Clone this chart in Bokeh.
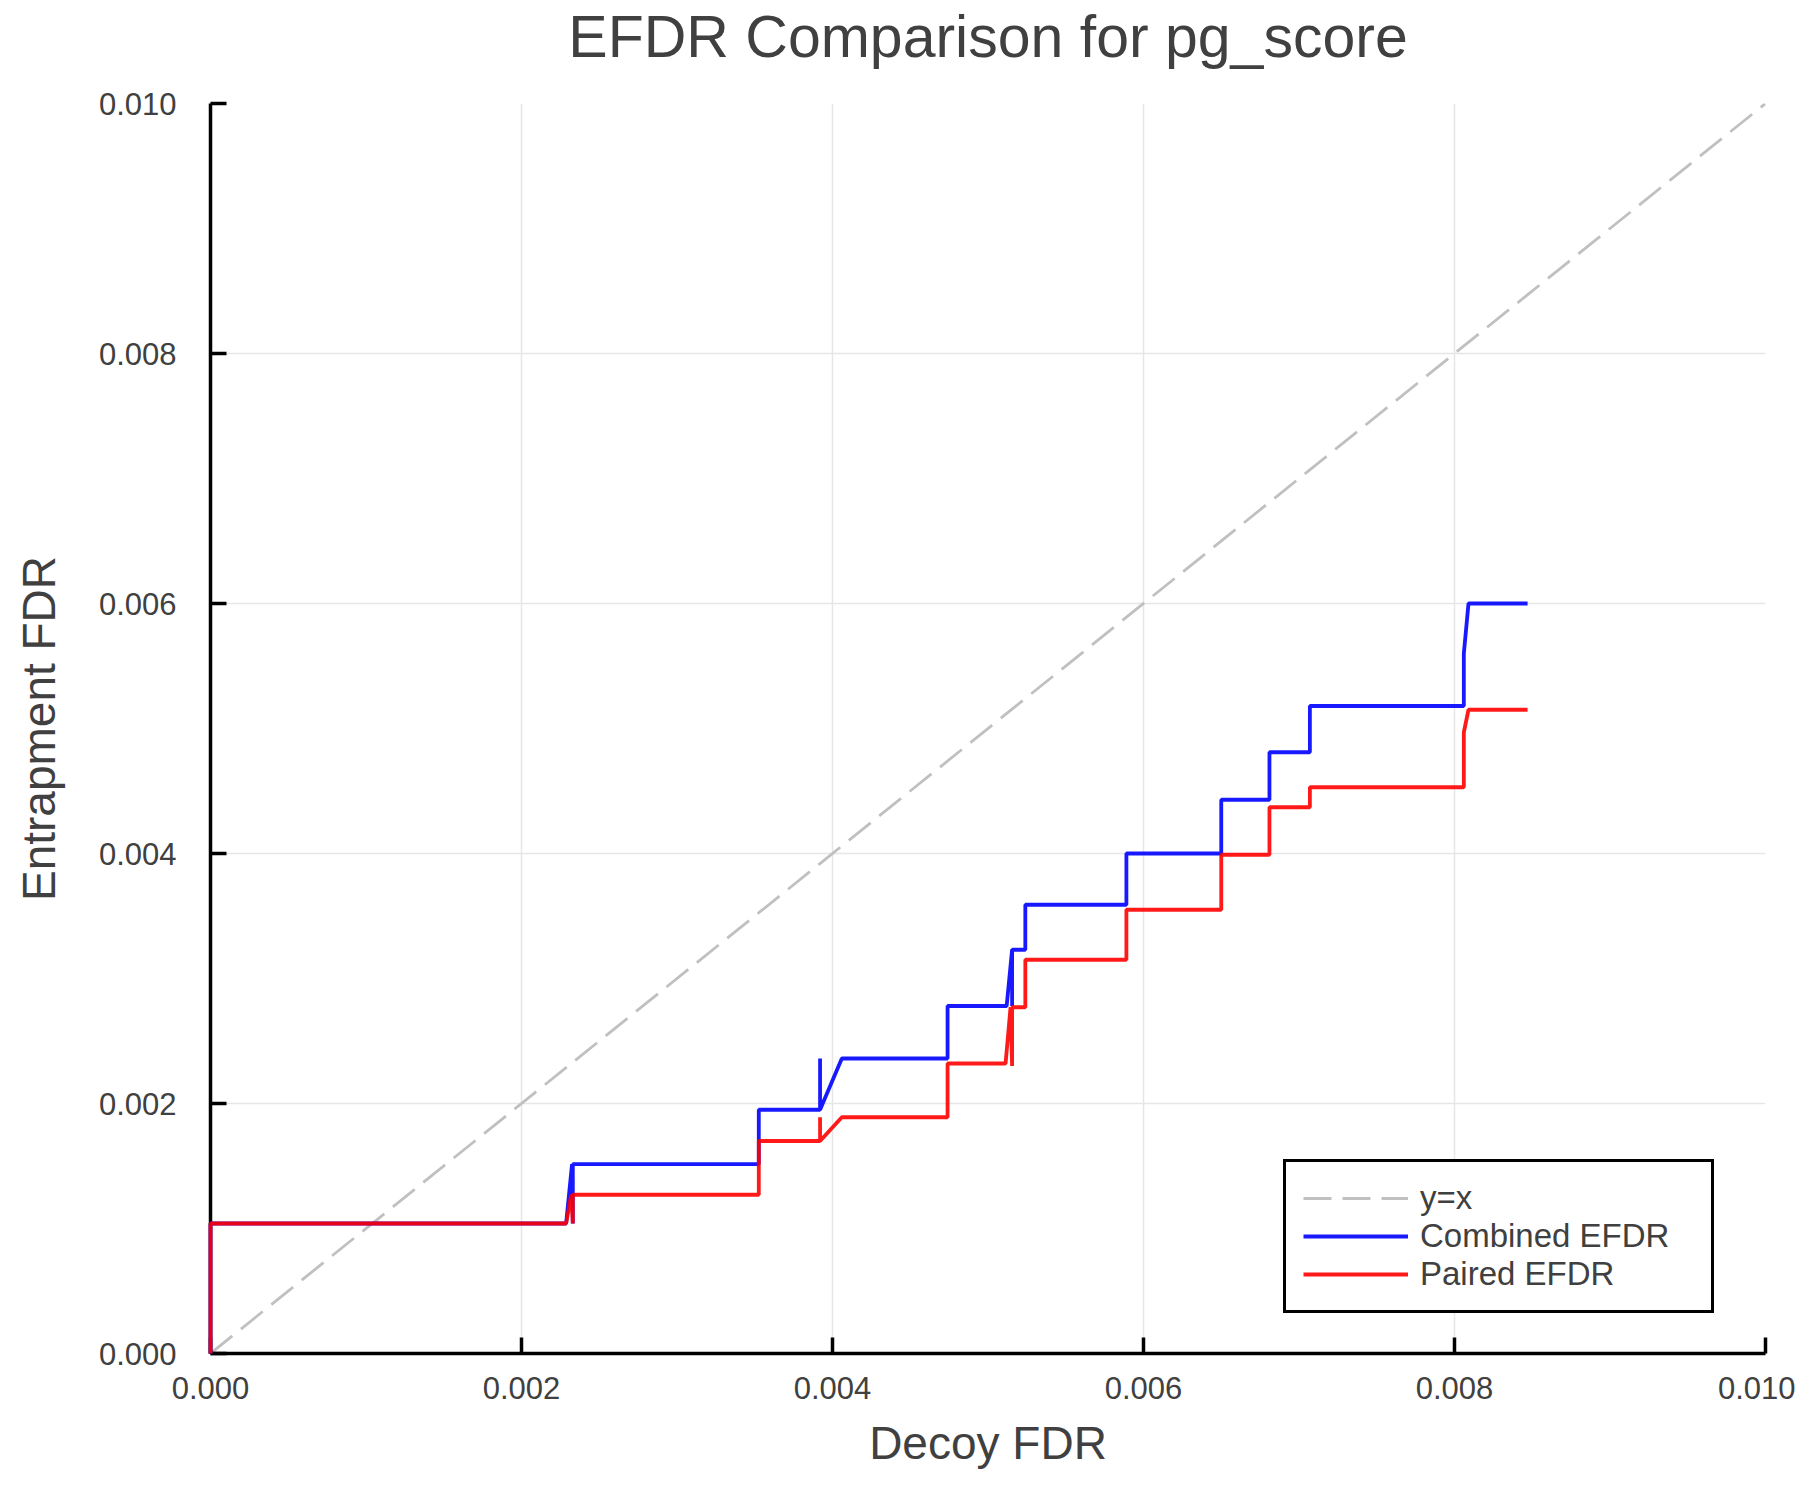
from bokeh.plotting import figure
from bokeh.models import Range1d, FixedTicker, PrintfTickFormatter, Legend, LegendItem, LinearAxis
from bokeh.embed import file_html
from bokeh.resources import INLINE

# decoy FDR / entrapment FDR points
combined_x = [0.0, 0.0, 0.002287, 0.002325, 0.00233, 0.00233, 0.003526, 0.003526,
              0.00392, 0.00392, 0.00392, 0.00406, 0.00474, 0.00474, 0.00512, 0.005155,
              0.005155, 0.005155, 0.00524, 0.00524, 0.00589, 0.00589, 0.0065, 0.0065,
              0.00681, 0.00681, 0.00707, 0.00707, 0.00806, 0.00806, 0.00809, 0.00847]
combined_y = [0.0, 0.00104, 0.00104, 0.001515, 0.00104, 0.001515, 0.001515, 0.00195,
              0.00195, 0.00236, 0.00195, 0.00236, 0.00236, 0.00278, 0.00278, 0.00323,
              0.00278, 0.00323, 0.00323, 0.00359, 0.00359, 0.0040, 0.0040, 0.00443,
              0.00443, 0.00481, 0.00481, 0.00518, 0.00518, 0.0056, 0.0060, 0.0060]

paired_x = [0.0, 0.0, 0.002287, 0.00232, 0.00233, 0.00233, 0.003526, 0.003526,
            0.00392, 0.00392, 0.00392, 0.00406, 0.00474, 0.00474, 0.005113, 0.005145,
            0.005155, 0.005155, 0.00524, 0.00524, 0.00589, 0.00589, 0.0065, 0.0065,
            0.00681, 0.00681, 0.00707, 0.00707, 0.00806, 0.00806, 0.00809, 0.00847]
paired_y = [0.0, 0.00104, 0.00104, 0.00127, 0.00104, 0.00127, 0.00127, 0.0017,
            0.0017, 0.00189, 0.0017, 0.00189, 0.00189, 0.00232, 0.00232, 0.00277,
            0.0023, 0.00277, 0.00277, 0.00315, 0.00315, 0.00355, 0.00355, 0.00399,
            0.00399, 0.00437, 0.00437, 0.00453, 0.00453, 0.00497, 0.00515, 0.00515]

diag = [0.0, 0.010]
ticks = [0.0, 0.002, 0.004, 0.006, 0.008, 0.010]

FONT = "Liberation Sans"
TXT = "#404040"

p = figure(frame_width=1555, frame_height=1250,
           min_border_left=210, min_border_right=30, min_border_top=102, min_border_bottom=144,
           x_range=Range1d(0, 0.010), y_range=Range1d(0, 0.010),
           x_axis_label="Decoy FDR", y_axis_label="Entrapment FDR",
           output_backend="svg", toolbar_location=None, tools="")

p.outline_line_color = None
p.background_fill_color = "white"
p.border_fill_color = "white"

xax = p.below[0]
yax = p.left[0]

for ax in [xax, yax]:
    ax.ticker = FixedTicker(ticks=ticks)
    ax.formatter = PrintfTickFormatter(format="%.3f")
    ax.axis_line_width = 3.5
    ax.axis_line_color = "black"
    ax.major_tick_line_width = 3.5
    ax.major_tick_line_color = "black"
    ax.major_tick_in = 16
    ax.major_tick_out = 0
    ax.minor_tick_line_color = None
    ax.major_label_text_font = FONT
    ax.major_label_text_font_size = "31px"
    ax.major_label_text_color = TXT
    ax.axis_label_text_font = FONT
    ax.axis_label_text_font_size = "46px"
    ax.axis_label_text_font_style = "normal"
    ax.axis_label_text_color = TXT

xax.major_label_standoff = 23
xax.axis_label_standoff = 15
yax.major_label_standoff = 34
yax.major_label_orientation = "horizontal"
yax.axis_label_standoff = 31

# the title goes in an empty axis above the frame: a plain Title keeps
# half its standoff on top and would sit too low
top = LinearAxis(ticker=FixedTicker(ticks=[]), axis_label="EFDR Comparison for pg_score")
top.axis_line_color = None
top.major_tick_in = 0
top.major_tick_out = 0
top.minor_tick_line_color = None
top.major_label_standoff = 0
top.axis_label_standoff = 34
top.axis_label_text_font = FONT
top.axis_label_text_font_size = "59px"
top.axis_label_text_font_style = "normal"
top.axis_label_text_color = TXT
p.add_layout(top, "above")

p.grid.grid_line_color = "#e6e6e6"
p.grid.grid_line_width = 1.5

r_diag = p.line(diag, diag, line_color="#c0c0c0", line_width=2.8, line_dash="28 11")
# the efdr lines sit on top of the axes, as in the original
r_comb = p.line(combined_x, combined_y, line_color="blue", line_width=3.8,
                line_alpha=0.9, level="overlay")
r_pair = p.line(paired_x, paired_y, line_color="red", line_width=3.8,
                line_alpha=0.9, level="overlay")

legend = Legend(items=[LegendItem(label="y=x", renderers=[r_diag]),
                       LegendItem(label="Combined EFDR", renderers=[r_comb]),
                       LegendItem(label="Paired EFDR", renderers=[r_pair])],
                location=(1073, 40))
legend.label_text_font = FONT
legend.label_text_font_size = "33px"
legend.label_text_color = TXT
legend.glyph_width = 105
legend.glyph_height = 36
legend.label_height = 36
legend.label_width = 274
legend.label_standoff = 12
legend.spacing = 0
legend.padding = 17
legend.margin = 0
legend.border_line_color = "black"
legend.border_line_alpha = 1.0
legend.border_line_width = 3.5
legend.background_fill_alpha = 1.0
p.add_layout(legend)

open("out.html", "w").write(file_html(p, INLINE))
